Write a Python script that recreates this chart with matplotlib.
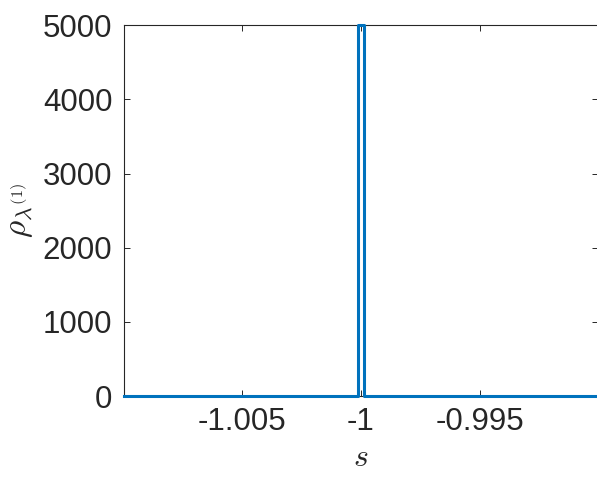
import matplotlib
matplotlib.use("Agg")
import matplotlib.pyplot as plt
from matplotlib.ticker import FuncFormatter

# density of lambda^(1): narrow box around s = -1
s_vals = [-1.01, -1.000125, -1.000125, -0.999875, -0.999875, -0.99]
rho_vals = [0, 0, 5000, 5000, 0, 0]
x_ticks = [-1.005, -1.0, -0.995]
y_ticks = [0, 1000, 2000, 3000, 4000, 5000]

plt.rcParams["font.family"] = ["Liberation Sans", "DejaVu Sans"]
plt.rcParams["mathtext.fontset"] = "cm"
plt.rcParams["axes.unicode_minus"] = False

fig = plt.figure(figsize=(5.97, 4.82), dpi=100)
ax = fig.add_axes([0.207, 0.178, 0.795, 0.770])

ax.plot(s_vals, rho_vals, color="#0072BD", linewidth=2.2, clip_on=False, zorder=3)

ax.set_xlim(-1.01, -0.99)
ax.set_ylim(0, 5000)
ax.set_xticks(x_ticks)
ax.set_yticks(y_ticks)
ax.xaxis.set_major_formatter(FuncFormatter(lambda v, p: "%g" % round(v, 6)))

ax.tick_params(direction="in", length=4, width=0.7, labelsize=22.5,
               colors="#262626", top=True, right=True, pad=8)
for sp in ax.spines.values():
    sp.set_color("#262626")
    sp.set_linewidth(0.8)

ax.set_xlabel("$s$", fontsize=23, color="#262626", labelpad=4)
ax.set_ylabel(r"$\rho_{\lambda^{(1)}}$", fontsize=24, color="#262626", labelpad=5)

fig.savefig("out.png", dpi=100)
